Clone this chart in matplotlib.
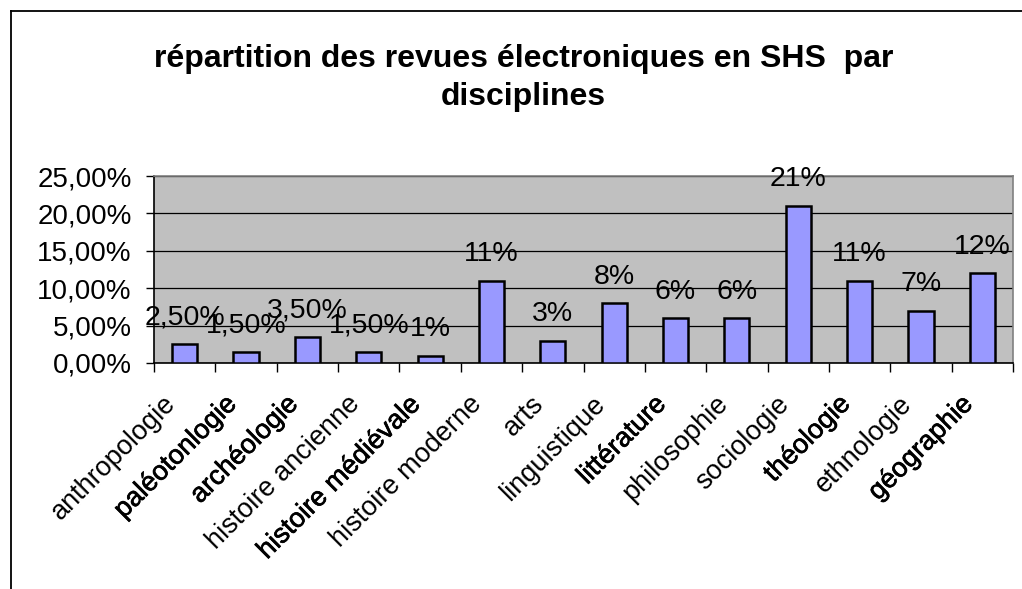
import matplotlib
matplotlib.use("Agg")
import matplotlib.pyplot as plt
import matplotlib.patheffects as pe
from matplotlib.lines import Line2D
from matplotlib.transforms import offset_copy
import numpy as np

# ---- data ----
categories = ["anthropologie", "paléotonlogie", "archéologie", "histoire ancienne",
              "histoire médiévale", "histoire moderne", "arts", "linguistique",
              "littérature", "philosophie", "sociologie", "théologie",
              "ethnologie", "géographie"]
values = [2.5, 1.5, 3.5, 1.5, 1, 11, 3, 8, 6, 6, 21, 11, 7, 12]
value_labels = ["2,50%", "1,50%", "3,50%", "1,50%", "1%", "11%", "3%", "8%",
                "6%", "6%", "21%", "11%", "7%", "12%"]
y_ticks = [0, 5, 10, 15, 20, 25]
y_tick_labels = ["0,00%", "5,00%", "10,00%", "15,00%", "20,00%", "25,00%"]
title = "répartition des revues électroniques en SHS  par\ndisciplines"

# ---- style ----
heavier_labels = {1, 2, 4, 8, 11, 13}
plt.rcParams['font.family'] = ['Liberation Sans', 'DejaVu Sans']

W, H = 1022, 589
fig = plt.figure(figsize=(W / 100, H / 100), dpi=100)
fig.patch.set_facecolor("white")

ax = fig.add_axes([154 / W, 1 - 363 / H, (1013 - 154) / W, (363 - 176) / H])
ax.set_facecolor("#C0C0C0")

x = np.arange(len(categories))
ax.bar(x, values, width=0.41, color="#9999FF", edgecolor="black", linewidth=1.8, zorder=3)

ax.set_xlim(-0.5, len(categories) - 0.5)
ax.set_ylim(0, 25)

ax.set_yticks(y_ticks)
ax.set_yticklabels(y_tick_labels, fontsize=20)
ax.yaxis.grid(True, color="black", linewidth=0.9, zorder=1)
ax.set_axisbelow(True)
ax.tick_params(axis="y", direction="out", length=6, width=1, pad=10, colors="black")

ax.set_xticks(np.arange(len(categories) + 1) - 0.5)
ax.set_xticklabels([])
ax.tick_params(axis="x", direction="out", length=6.5, width=1)

for s in ["top", "right"]:
    ax.spines[s].set_color("#808080")
    ax.spines[s].set_linewidth(1.2)
for s in ["left", "bottom"]:
    ax.spines[s].set_color("black")
    ax.spines[s].set_linewidth(1.2)

for i, name in enumerate(categories):
    tr = offset_copy(ax.get_xaxis_transform(), fig=fig, x=-13, y=-37, units="dots")
    kw = {}
    if i in heavier_labels:
        kw["path_effects"] = [pe.withStroke(linewidth=0.5, foreground="black")]
    ax.text(i, 0, name, transform=tr, rotation=45, rotation_mode="anchor",
            ha="right", va="center", fontsize=19.5, color="black", **kw)

for i, (v, lab) in enumerate(zip(values, value_labels)):
    ax.annotate(lab, (i, v), xytext=(0, 14), textcoords="offset points",
                ha="center", va="baseline", fontsize=20.5, color="black", zorder=5)

fig.text(0.512, 1 - 78 / H, title, ha="center", va="center", fontsize=23,
         fontweight="bold", linespacing=1.35)

fig.add_artist(Line2D([11 / W, 11 / W], [0, 1 - 11 / H], transform=fig.transFigure,
                      color="black", linewidth=1.3))
fig.add_artist(Line2D([11 / W, 1], [1 - 11 / H, 1 - 11 / H], transform=fig.transFigure,
                      color="black", linewidth=1.3))

fig.savefig("out.png", dpi=100)
